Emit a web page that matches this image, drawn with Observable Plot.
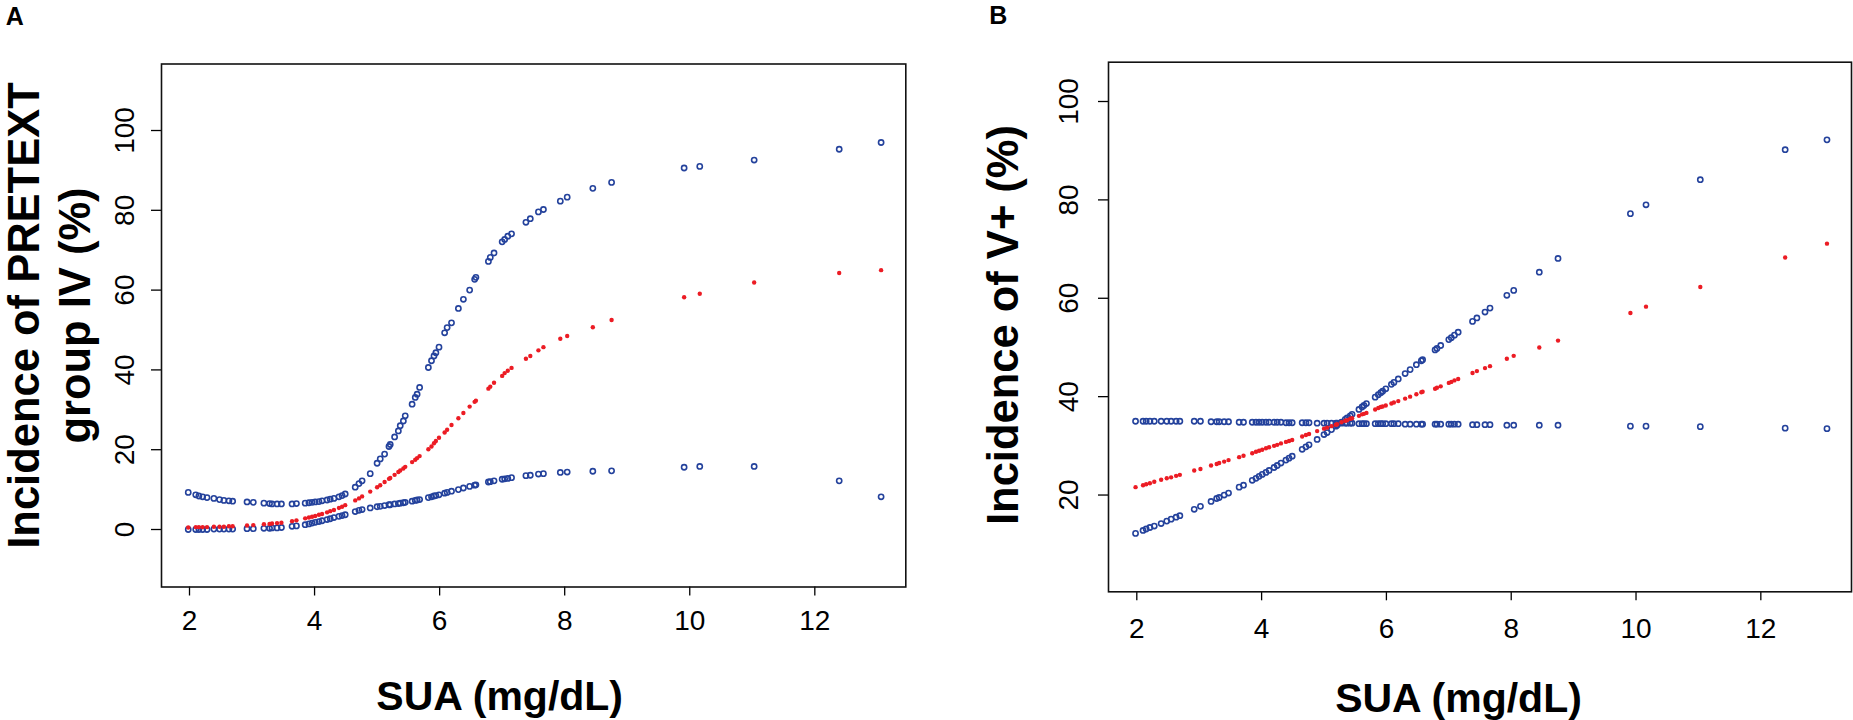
<!DOCTYPE html>
<html><head><meta charset="utf-8">
<script src="https://cdn.jsdelivr.net/npm/d3@7"></script>
<script src="https://cdn.jsdelivr.net/npm/@observablehq/plot@0.6"></script>
<style>
html,body{margin:0;padding:0;background:#fff;}
#wrap{display:flex;width:1853px;height:720px;overflow:hidden;}
#wrap svg{display:block;flex:none;}
</style></head><body><div id="wrap"></div>
<script>
// SUA values (mg/dL), shared by both panels
const sua = [1.98, 2.10, 2.15, 2.21, 2.28, 2.39, 2.48, 2.55, 2.63, 2.69,
  2.92, 3.02, 3.19, 3.28, 3.32, 3.40, 3.47, 3.64, 3.71, 3.85,
  3.91, 3.96, 4.01, 4.07, 4.12, 4.20, 4.25, 4.31, 4.39, 4.44,
  4.49, 4.65, 4.71, 4.76, 4.89, 5.00, 5.05, 5.12, 5.19, 5.21,
  5.28, 5.34, 5.37, 5.42, 5.45, 5.56, 5.61, 5.64, 5.68, 5.82,
  5.87, 5.91, 5.94, 5.99, 6.08, 6.12, 6.19, 6.30, 6.38, 6.48,
  6.56, 6.58, 6.78, 6.81, 6.87, 7.00, 7.04, 7.09, 7.15, 7.38,
  7.45, 7.58, 7.66, 7.93, 8.04, 8.45, 8.75, 9.91, 10.16, 11.03,
  12.39, 13.06];

// Panel A: incidence of PRETEXT group IV (%)
const aUpper = [9.3, 8.7, 8.4, 8.2, 8.0, 7.8, 7.5, 7.3, 7.2, 7.1,
  6.9, 6.8, 6.6, 6.5, 6.4, 6.4, 6.4, 6.4, 6.5, 6.6,
  6.7, 6.8, 6.9, 7.0, 7.2, 7.4, 7.6, 7.8, 8.2, 8.5,
  8.9, 10.6, 11.5, 12.2, 14.0, 16.6, 17.7, 18.9, 20.8, 21.3,
  23.2, 24.7, 26.0, 27.2, 28.5, 31.4, 33.1, 33.9, 35.6, 40.6,
  42.3, 43.5, 44.3, 45.7, 49.3, 50.6, 51.8, 55.4, 57.7, 60.0,
  62.7, 63.2, 67.2, 68.2, 69.3, 72.1, 72.7, 73.5, 74.1, 77.0,
  77.9, 79.6, 80.2, 82.3, 83.3, 85.5, 87.0, 90.6, 91.0, 92.6,
  95.3, 97.0];
const aFit = [0.5, 0.6, 0.6, 0.6, 0.6, 0.7, 0.7, 0.7, 0.8, 0.8,
  1.0, 1.1, 1.3, 1.4, 1.5, 1.6, 1.7, 2.1, 2.3, 2.8,
  3.0, 3.2, 3.4, 3.7, 3.9, 4.3, 4.6, 4.9, 5.4, 5.7,
  6.1, 7.3, 7.8, 8.3, 9.5, 10.6, 11.1, 11.9, 12.7, 12.9,
  13.7, 14.4, 14.8, 15.3, 15.7, 16.9, 17.5, 17.9, 18.4, 20.1,
  20.8, 21.6, 22.2, 23.0, 24.3, 25.0, 26.2, 27.9, 29.2, 30.8,
  32.0, 32.3, 35.3, 35.8, 36.8, 38.5, 39.2, 39.8, 40.5, 42.8,
  43.5, 44.9, 45.7, 47.8, 48.5, 50.7, 52.5, 58.2, 59.1, 61.9,
  64.3, 65.0];
const aLower = [0.0, 0.0, 0.0, 0.0, 0.0, 0.1, 0.1, 0.1, 0.1, 0.1,
  0.2, 0.2, 0.3, 0.3, 0.4, 0.4, 0.5, 0.8, 0.9, 1.2,
  1.4, 1.6, 1.8, 2.0, 2.2, 2.5, 2.7, 3.0, 3.3, 3.5,
  3.7, 4.5, 4.8, 5.0, 5.4, 5.7, 5.8, 6.0, 6.2, 6.2,
  6.4, 6.5, 6.6, 6.7, 6.8, 7.1, 7.3, 7.4, 7.5, 8.0,
  8.2, 8.4, 8.5, 8.7, 9.1, 9.3, 9.6, 10.0, 10.4, 10.8,
  11.1, 11.2, 11.9, 12.0, 12.2, 12.6, 12.7, 12.8, 13.0, 13.5,
  13.6, 13.9, 14.0, 14.3, 14.4, 14.6, 14.7, 15.6, 15.8, 15.8,
  12.2, 8.2];

// Panel B: incidence of V+ (%)
const bRising = [12.2, 12.8, 13.1, 13.4, 13.7, 14.2, 14.7, 15.1, 15.5, 15.8,
  17.1, 17.7, 18.7, 19.3, 19.5, 20.0, 20.4, 21.6, 22.0, 23.0,
  23.4, 23.8, 24.2, 24.6, 25.0, 25.6, 26.0, 26.5, 27.1, 27.5,
  27.9, 29.3, 29.8, 30.2, 31.3, 32.3, 32.7, 33.3, 34.0, 34.2,
  34.8, 35.4, 35.7, 36.1, 36.4, 37.4, 37.9, 38.2, 38.6, 39.9,
  40.4, 40.8, 41.1, 41.6, 42.5, 42.9, 43.6, 44.7, 45.5, 46.5,
  47.3, 47.5, 49.5, 49.8, 50.4, 51.6, 52.0, 52.5, 53.1, 55.3,
  56.0, 57.2, 58.0, 60.6, 61.6, 65.3, 68.1, 77.2, 79.0, 84.1,
  90.2, 92.2];
const bFit = [21.6, 22.0, 22.2, 22.4, 22.7, 23.1, 23.4, 23.6, 23.9, 24.1,
  25.0, 25.3, 26.0, 26.3, 26.5, 26.8, 27.1, 27.7, 28.0, 28.5,
  28.8, 29.0, 29.2, 29.5, 29.7, 30.0, 30.2, 30.5, 30.8, 31.0,
  31.2, 31.9, 32.2, 32.4, 33.0, 33.5, 33.7, 34.0, 34.3, 34.4,
  34.8, 35.1, 35.2, 35.5, 35.6, 36.1, 36.4, 36.5, 36.7, 37.4,
  37.7, 37.9, 38.0, 38.2, 38.6, 38.8, 39.1, 39.6, 40.0, 40.5,
  40.9, 41.0, 41.6, 41.8, 42.1, 42.8, 43.0, 43.3, 43.6, 44.8,
  45.2, 45.8, 46.2, 47.7, 48.3, 50.0, 51.4, 57.0, 58.3, 62.3,
  68.3, 71.1];
const bFlat = [35.0, 35.0, 35.0, 35.0, 35.0, 35.0, 35.0, 35.0, 35.0, 35.0,
  35.0, 35.0, 34.9, 34.9, 34.9, 34.9, 34.9, 34.8, 34.8, 34.8,
  34.8, 34.8, 34.8, 34.8, 34.8, 34.8, 34.8, 34.8, 34.7, 34.7,
  34.7, 34.7, 34.7, 34.7, 34.6, 34.6, 34.6, 34.6, 34.6, 34.6,
  34.6, 34.6, 34.6, 34.6, 34.6, 34.5, 34.5, 34.5, 34.5, 34.5,
  34.5, 34.5, 34.5, 34.5, 34.5, 34.5, 34.5, 34.4, 34.4, 34.4,
  34.4, 34.4, 34.4, 34.4, 34.4, 34.4, 34.4, 34.4, 34.4, 34.3,
  34.3, 34.3, 34.3, 34.2, 34.2, 34.2, 34.2, 34.0, 34.0, 33.9,
  33.6, 33.5];

const xTicks = [2, 4, 6, 8, 10, 12];
const aYTicks = [0, 20, 40, 60, 80, 100];
const bYTicks = [20, 40, 60, 80, 100];
const xTitle = "SUA (mg/dL)";
const aYTitle = "Incidence of PRETEXT\ngroup IV (%)";
const bYTitle = "Incidence of V+ (%)";

const BLUE = "#24429c";
const RED = "#ec1c24";
const FONT = "'Liberation Sans', Arial, Helvetica, sans-serif";

function rows(ci1, fit, ci2) {
  return sua.map((x, i) => ({x, ci1: ci1[i], fit: fit[i], ci2: ci2[i]}));
}

function panel(o) {
  const data = rows(o.ci1, o.fit, o.ci2);
  return Plot.plot({
    width: o.width, height: 720,
    marginLeft: o.ml, marginRight: o.mr, marginTop: o.top, marginBottom: 720 - o.bottom,
    style: {fontFamily: FONT, background: "#fff", color: "#000", overflow: "visible"},
    x: {domain: o.xDomain, label: null},
    y: {domain: o.yDomain, label: null},
    marks: [
      Plot.axisX(xTicks, {tickSize: 9, tickPadding: o.xPad, fontSize: 28, label: null, strokeWidth: 1.3}),
      Plot.axisY(o.yTicks, {tickSize: 10, tickFormat: () => "", label: null, strokeWidth: 1.3}),
      Plot.text(o.yTicks, {y: d => d, text: d => String(d), frameAnchor: "left", dx: o.yTickDx,
        rotate: -90, fontSize: 28, textAnchor: "middle", lineAnchor: "middle"}),
      Plot.dot(data, {x: "x", y: "ci1", r: 2.6, stroke: BLUE, strokeWidth: 1.6, fill: "none"}),
      Plot.dot(data, {x: "x", y: "ci2", r: 2.6, stroke: BLUE, strokeWidth: 1.6, fill: "none"}),
      Plot.dot(data, {x: "x", y: "fit", r: 2.2, fill: RED, stroke: null}),
      Plot.frame({stroke: "#111", strokeWidth: 1.6}),
      Plot.text([xTitle], {text: d => d, frameAnchor: "bottom", dx: o.xTitleDx, dy: o.xTitleDy,
        fontSize: 41, fontWeight: "bold", textAnchor: "middle", lineAnchor: "middle"}),
      Plot.text([o.yTitle], {text: d => d, frameAnchor: "left", dx: o.yTitleDx, dy: o.yTitleDy,
        rotate: -90, fontSize: 43.5, fontWeight: "bold", lineHeight: 1.16, textAnchor: "middle", lineAnchor: "middle"}),
      Plot.text([o.letter], {text: d => d, frameAnchor: "top-left", dx: o.letterDx, dy: o.letterDy,
        fontSize: 25, fontWeight: "bold", textAnchor: "middle", lineAnchor: "middle"})
    ]
  });
}

const wrap = document.getElementById("wrap");
wrap.append(panel({
  width: 926, ml: 161, mr: 20.7, top: 63.5, bottom: 586.5,
  xDomain: [1.5522, 13.455], yDomain: [-14.41, 116.67],
  yTicks: aYTicks, ci1: aUpper, fit: aFit, ci2: aLower,
  xPad: 14.5, yTickDx: -36, xTitleDx: -34, xTitleDy: 109.5,
  yTitle: aYTitle, yTitleDx: -113, yTitleDy: -10,
  letter: "A", letterDx: -146.7, letterDy: -47
}));
wrap.append(panel({
  width: 927, ml: 182, mr: 2, top: 61.7, bottom: 591.3,
  xDomain: [1.5465, 13.453], yDomain: [0.33, 107.99],
  yTicks: bYTicks, ci1: bRising, fit: bFit, ci2: bFlat,
  xPad: 17, yTickDx: -39.5, xTitleDx: -21.5, xTitleDy: 106.7,
  yTitle: bYTitle, yTitleDx: -106.8, yTitleDy: -2,
  letter: "B", letterDx: -110.3, letterDy: -46.2
}));
</script></body></html>
